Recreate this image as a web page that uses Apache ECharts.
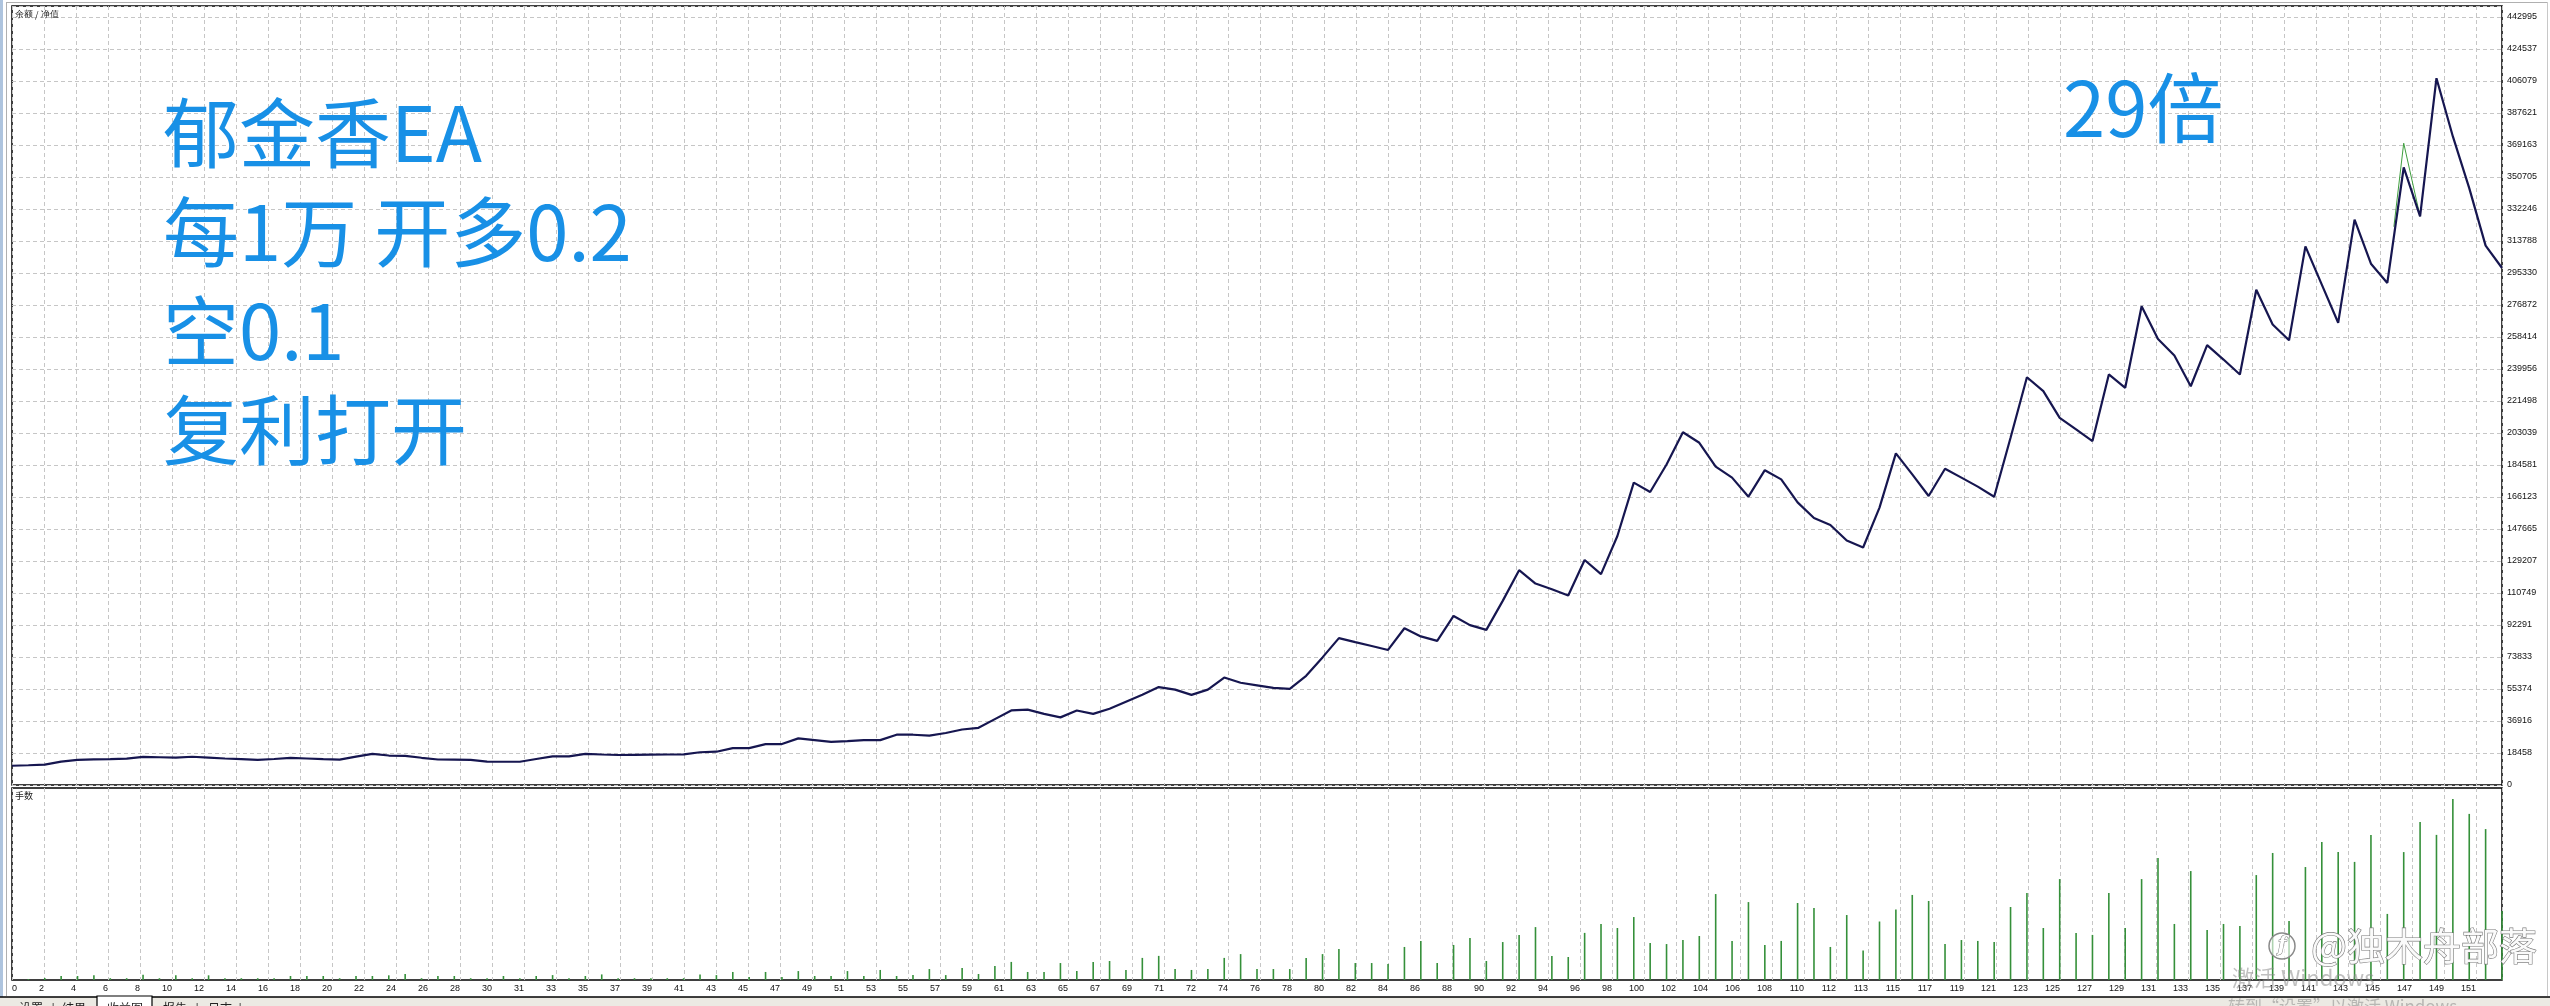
<!DOCTYPE html>
<html>
<head>
<meta charset="utf-8">
<title>郁金香EA 收益图</title>
<script src="https://cdn.jsdelivr.net/npm/echarts@6/dist/echarts.min.js"></script>
<style>
  html, body { margin: 0; padding: 0; background: #fff; overflow: hidden; }
  #chart { width: 2550px; height: 1006px; }
</style>
</head>
<body>
<div id="chart"></div>
<script>
// 余额, 第0点为初始资金, 之后每笔交易一个点
const balance = [
  11100, 11400, 11800, 13500, 14500, 14800, 14900, 15200, 16200, 16000,
  15800, 16300, 15800, 15300, 14900, 14500, 15000, 15700, 15300, 14900,
  14600, 16400, 18000, 17000, 16800, 15700, 14700, 14600, 14500, 13500,
  13400, 13400, 15000, 16500, 16500, 18000, 17600, 17300, 17400, 17500,
  17600, 17700, 18900, 19200, 21300, 21300, 23600, 23600, 26900, 25900,
  24900, 25300, 25900, 25900, 29000, 29000, 28500, 30000, 32000, 33000,
  38000, 43000, 43500, 41000, 39000, 43000, 41000, 44000, 48000, 52000,
  56500, 55000, 52000, 55000, 62000, 59000, 57500, 56000, 55500, 63000,
  73600, 84700, 82400, 80200, 77900, 90400, 85700, 83100, 97500, 92200,
  89500, 106200, 123900, 116200, 112900, 109300, 129800, 121600, 143600, 174400,
  169000, 184900, 203500, 197400, 183600, 177300, 166300, 181600, 176300, 163000,
  154000, 150000, 141000, 137000, 160000, 191300, 179200, 166700, 182400, 177300,
  172100, 166300, 200300, 235200, 227200, 211800, 205100, 198400, 236800, 229100,
  276100, 257300, 247700, 230000, 253700, 245400, 236800, 285700, 265600, 256500,
  310700, 288600, 266600, 326100, 300700, 289600, 356200, 328000, 407700, 374100,
  344300, 311100, 298200
];

// 第1笔到第152笔的手数
const lots = [
  0.04, 0.09, 0.18, 0.18, 0.21, 0.08, 0.08, 0.24, 0.08, 0.21,
  0.08, 0.21, 0.08, 0.08, 0.08, 0.08, 0.18, 0.18, 0.18, 0.08,
  0.18, 0.18, 0.21, 0.27, 0.08, 0.18, 0.18, 0.08, 0.08, 0.18,
  0.08, 0.18, 0.22, 0.08, 0.18, 0.25, 0.08, 0.08, 0.08, 0.08,
  0.08, 0.25, 0.22, 0.36, 0.13, 0.36, 0.13, 0.40, 0.18, 0.18,
  0.40, 0.18, 0.45, 0.18, 0.22, 0.49, 0.22, 0.54, 0.27, 0.63,
  0.81, 0.36, 0.36, 0.76, 0.40, 0.81, 0.85, 0.45, 0.99, 1.08,
  0.49, 0.45, 0.49, 0.99, 1.16, 0.49, 0.49, 0.49, 0.99, 1.16,
  1.39, 0.76, 0.76, 0.72, 1.48, 1.75, 0.76, 1.57, 1.88, 0.85,
  1.70, 2.02, 2.37, 1.08, 1.03, 2.11, 2.51, 2.33, 2.82, 1.66,
  1.61, 1.79, 1.97, 3.85, 1.75, 3.49, 1.57, 1.75, 3.45, 3.23,
  1.48, 2.91, 1.32, 2.62, 3.16, 3.81, 3.54, 1.61, 1.79, 1.75,
  1.70, 3.27, 3.90, 2.33, 4.52, 2.11, 2.02, 3.90, 2.33, 4.52,
  5.47, 2.51, 4.88, 2.24, 2.51, 2.42, 4.70, 5.69, 2.64, 5.06,
  6.18, 5.73, 5.29, 6.50, 2.96, 5.73, 7.08, 6.50, 8.11, 7.44,
  6.76, 3.09
];

// 净值与余额不重合的一段 (其余部分被余额线盖住)
const equityTrades = [145.4, 146, 147];
const equityValues = [322000, 370200, 328000];

// 横轴每格的标签
const xLabels = [
  '0', '2', '4', '6', '8', '10', '12', '14', '16', '18', '20', '22', '24', '26', '28', '30',
  '31', '33', '35', '37', '39', '41', '43', '45', '47', '49', '51', '53', '55', '57', '59',
  '61', '63', '65', '67', '69', '71', '72', '74', '76', '78', '80', '82', '84', '86', '88',
  '90', '92', '94', '96', '98', '100', '102', '104', '106', '108', '110', '112', '113',
  '115', '117', '119', '121', '123', '125', '127', '129', '131', '133', '135', '137',
  '139', '141', '143', '145', '147', '149', '151'
];

// 纵轴刻度标签, 从0往上
const yLabels = [
  '0', '18458', '36916', '55374', '73833', '92291', '110749', '129207', '147665',
  '166123', '184581', '203039', '221498', '239956', '258414', '276872', '295330',
  '313788', '332246', '350705', '369163', '387621', '406079', '424537', '442995'
];

const notes = ['郁金香EA', '每1万 开多0.2', '空0.1', '复利打开'];
const ratioNote = '29倍';

const yTop = 442995;
const yStep = yTop / 24;
const yMax = 449340;
const tradeMax = 152;
const xStep = tradeMax * 32 / 2490;
const lotsMax = 8.6;

const gridLine = { show: true, lineStyle: { color: '#c6c6c6', type: [4, 3], width: 1 } };
const labelFont = { fontFamily: 'Liberation Sans', fontSize: 9, color: '#111' };
const noteColor = '#1890e6';

const chart = echarts.init(document.getElementById('chart'), null, { renderer: 'canvas' });

const noteTexts = notes.map((t, i) => ({
  type: 'text',
  z: 100,
  style: {
    text: t, x: 163, y: 133 + i * 99,
    font: '76px "Noto Sans CJK SC"', fill: noteColor,
    textAlign: 'left', textVerticalAlign: 'middle'
  }
}));

const tabs = [
  { t: '设置', x: 31 }, { t: '|', x: 53 }, { t: '结果', x: 74 },
  { t: '收益图', x: 125 }, { t: '报告', x: 175 }, { t: '|', x: 197 },
  { t: '日志', x: 220 }, { t: '|', x: 240 }
];

chart.setOption({
  animation: false,
  backgroundColor: '#fff',
  grid: [
    { left: 12, right: 48, top: 6, height: 779, show: true, borderColor: '#000', borderWidth: 1.5, backgroundColor: '#fff' },
    { left: 12, right: 48, top: 788, height: 192, show: true, borderColor: '#000', borderWidth: 1.5, backgroundColor: '#fff' }
  ],
  xAxis: [
    {
      type: 'value', gridIndex: 0, min: 0, max: tradeMax, interval: xStep,
      axisLine: { show: false }, axisTick: { show: false }, axisLabel: { show: false },
      splitLine: gridLine
    },
    {
      type: 'value', gridIndex: 1, min: 0, max: tradeMax, interval: xStep,
      axisLine: { show: false }, axisTick: { show: false },
      axisLabel: Object.assign({
        margin: 4, align: 'right', alignMinLabel: 'left', showMaxLabel: false,
        formatter: v => xLabels[Math.round(v / xStep)] || ''
      }, labelFont),
      splitLine: gridLine
    }
  ],
  yAxis: [
    {
      type: 'value', gridIndex: 0, position: 'right', min: 0, max: yMax, interval: yStep,
      axisLine: { show: false }, axisTick: { show: false },
      axisLabel: Object.assign({
        margin: 5, showMaxLabel: false,
        formatter: v => yLabels[Math.round(v / yStep)] || ''
      }, labelFont),
      splitLine: gridLine
    },
    {
      type: 'value', gridIndex: 1, min: 0, max: lotsMax,
      axisLine: { show: false }, axisTick: { show: false }, axisLabel: { show: false },
      splitLine: { show: false }
    }
  ],
  series: [
    {
      name: '净值', type: 'line', xAxisIndex: 0, yAxisIndex: 0, z: 2,
      symbol: 'none', lineStyle: { color: '#3f9f3f', width: 1 },
      data: equityTrades.map((t, i) => [t, equityValues[i]])
    },
    {
      name: '余额', type: 'line', xAxisIndex: 0, yAxisIndex: 0, z: 3,
      symbol: 'none', lineStyle: { color: '#161650', width: 2.2 },
      data: balance.map((v, i) => [i, v])
    },
    {
      name: '手数', type: 'bar', xAxisIndex: 1, yAxisIndex: 1,
      barWidth: 1.6, itemStyle: { color: '#35903a' },
      data: lots.map((v, i) => [i + 1, v])
    }
  ],
  graphic: [
    // 左侧窗口边条
    { type: 'rect', shape: { x: 0, y: 0, width: 3, height: 1006 }, style: { fill: '#aec4de' }, z: 50 },
    { type: 'line', shape: { x1: 6.5, y1: 2, x2: 6.5, y2: 996 }, style: { stroke: '#b0b0b0', lineWidth: 1 }, z: 50 },
    { type: 'line', shape: { x1: 6, y1: 2.5, x2: 2548, y2: 2.5 }, style: { stroke: '#b0b0b0', lineWidth: 1 }, z: 50 },
    { type: 'line', shape: { x1: 2547.5, y1: 2, x2: 2547.5, y2: 996 }, style: { stroke: '#c8c8c8', lineWidth: 1 }, z: 50 },
    // 底部标签页
    { type: 'rect', shape: { x: 0, y: 997, width: 2550, height: 9 }, style: { fill: '#eceae3' }, z: 50 },
    { type: 'line', shape: { x1: 0, y1: 997, x2: 2550, y2: 997 }, style: { stroke: '#000', lineWidth: 1.5 }, z: 51 },
    { type: 'rect', shape: { x: 97, y: 996, width: 55, height: 11 }, style: { fill: '#fff', stroke: '#000', lineWidth: 1.2 }, z: 52 },
    ...tabs.map(d => ({
      type: 'text', z: 53,
      style: { text: d.t, x: d.x, y: 1002, font: '12px "Noto Sans CJK SC"', fill: '#222', textAlign: 'center', textVerticalAlign: 'top' }
    })),
    // 图内标注
    {
      type: 'text', z: 60,
      style: {
        text: '{a|余额} / {b|净值}', x: 15, y: 15, textVerticalAlign: 'middle',
        font: '9px "Noto Sans CJK SC"', fill: '#222',
        rich: { a: { color: '#1c1c5a', fontSize: 9 }, b: { color: '#22a022', fontSize: 9 } }
      }
    },
    {
      type: 'text', z: 60,
      style: { text: '手数', x: 15, y: 796, textVerticalAlign: 'middle', font: '9px "Noto Sans CJK SC"', fill: '#222' }
    },
    ...noteTexts,
    {
      type: 'text', z: 100,
      style: { text: ratioNote, x: 2063, y: 108, font: '76px "Noto Sans CJK SC"', fill: noteColor, textAlign: 'left', textVerticalAlign: 'middle' }
    },
    // 水印
    { type: 'circle', shape: { cx: 2282, cy: 946, r: 13 }, style: { fill: 'rgba(255,255,255,0.6)', stroke: '#8a8a8a', lineWidth: 1.5 }, z: 90 },
    {
      type: 'text', z: 91,
      style: { text: 'f', x: 2282, y: 946, font: 'italic bold 20px "DejaVu Serif"', fill: '#fff', stroke: '#7a7a7a', lineWidth: 1, textAlign: 'center', textVerticalAlign: 'middle' }
    },
    {
      type: 'text', z: 91,
      style: { text: '@独木舟部落', x: 2311, y: 946, font: '38px "Noto Sans CJK SC"', fill: '#fafafa', stroke: '#7a7a7a', lineWidth: 1.2, textAlign: 'left', textVerticalAlign: 'middle' }
    },
    {
      type: 'text', z: 89,
      style: { text: '激活 Windows', x: 2232, y: 978, font: '22px "Noto Sans CJK SC"', fill: 'rgba(140,140,140,0.55)', textAlign: 'left', textVerticalAlign: 'middle' }
    },
    {
      type: 'text', z: 89,
      style: { text: '转到“设置”以激活 Windows。', x: 2228, y: 998, font: '17px "Noto Sans CJK SC"', fill: 'rgba(140,140,140,0.55)', textAlign: 'left', textVerticalAlign: 'top' }
    }
  ]
});
</script>
</body>
</html>
